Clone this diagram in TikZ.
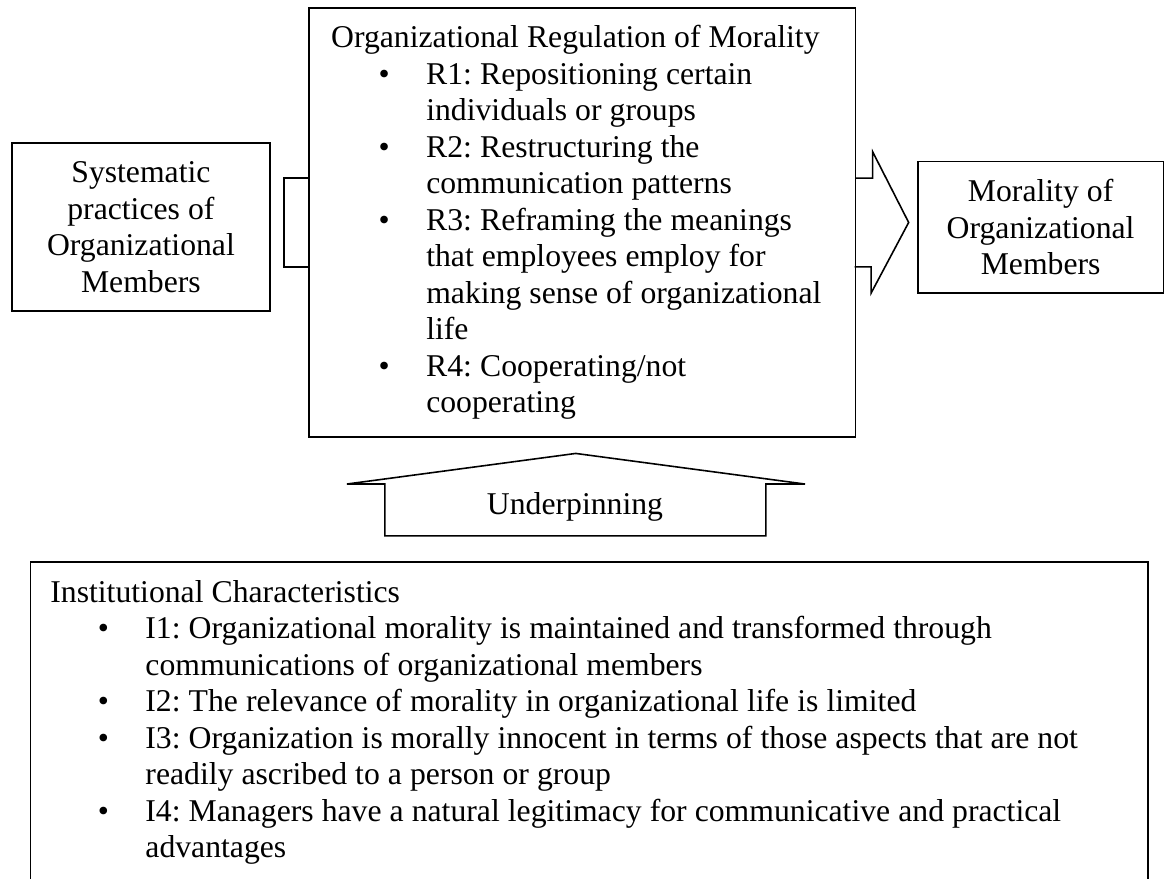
\documentclass[tikz,border=0pt]{standalone}
\usepackage{fontspec}
\setmainfont{Liberation Serif}
\usetikzlibrary{positioning, calc}

\newcommand{\bpt}[1]{\par\parindent=0pt\leftskip=36pt\noindent\llap{\makebox[18pt][l]{\textbullet}}#1\par}
\newcommand{\wordfont}{\fontsize{12pt}{13.8pt}\selectfont\spaceskip=3.05pt\relax}

\begin{document}
\frenchspacing
\begin{tikzpicture}[
    box/.style={rectangle, draw=black, line width=0.6pt, fill=white, align=center,
        font=\wordfont, inner sep=0pt},
    listbox/.style={box, align=left, inner xsep=8pt},
    blockarrow/.style={draw=black, line width=0.6pt, line join=miter},
    lbl/.style={font=\wordfont}
]
\useasboundingbox (0,0) rectangle (15.50,11.69);
\clip (0,0) rectangle (15.50,11.69);

% --- Kaesten ---
\node[box, minimum width=3.43cm, minimum height=2.24cm] (practices) at (1.875,8.67)
    {Systematic\\practices of\\Organizational\\Members};

\node[listbox, text width=190pt, minimum width=7.27cm, minimum height=5.705cm] (regulation) at (7.745,8.73)
    {\noindent\wordfont Organizational Regulation of Morality
     \bpt{R1: Repositioning certain\newline individuals or groups}
     \bpt{R2: Restructuring the\newline communication patterns}
     \bpt{R3: Reframing the meanings\newline that employees employ for\newline making sense of organizational\newline life}
     \bpt{R4: Cooperating/not\newline cooperating}};

\node[box, minimum width=3.27cm, minimum height=1.75cm] (morality) at (13.845,8.665)
    {Morality of\\Organizational\\Members};

\node[listbox, text width=408pt, inner xsep=7.6pt, inner ysep=6.9pt, anchor=north] (institutional) at (7.84,4.22)
    {\noindent\wordfont Institutional Characteristics
     \bpt{I1: Organizational morality is maintained and transformed through\newline communications of organizational members}
     \bpt{I2: The relevance of morality in organizational life is limited}
     \bpt{I3: Organization is morally innocent in terms of those aspects that are not\newline readily ascribed to a person or group}
     \bpt{I4: Managers have a natural legitimacy for communicative and practical\newline advantages}};

% --- Blockpfeile ---
\draw[blockarrow] ([yshift=0.59cm]regulation.west) -- ++(-0.32,0) -- ++(0,-1.18) -- ++(0.32,0);

\coordinate (rtip) at ($(morality.west |- regulation.east)+(-0.11,0)$);
\draw[blockarrow] ([yshift=0.59cm]regulation.east) -- ++(0.22,0) -- ++(0,0.35) -- (rtip)
    -- ++(-0.50,-0.94) -- ++(0,0.35) -- ++(-0.22,0);

\coordinate (utip) at ($(regulation.south)+(-0.085,-0.21)$);
\draw[blockarrow] (utip) -- (10.71,5.25) -- (10.19,5.25) -- (10.19,4.56) -- (5.12,4.56)
    -- (5.12,5.25) -- (4.615,5.25) -- cycle;
\node[lbl, anchor=base] (underpin) at (7.65,4.84) {Underpinning};

\end{tikzpicture}
\end{document}
